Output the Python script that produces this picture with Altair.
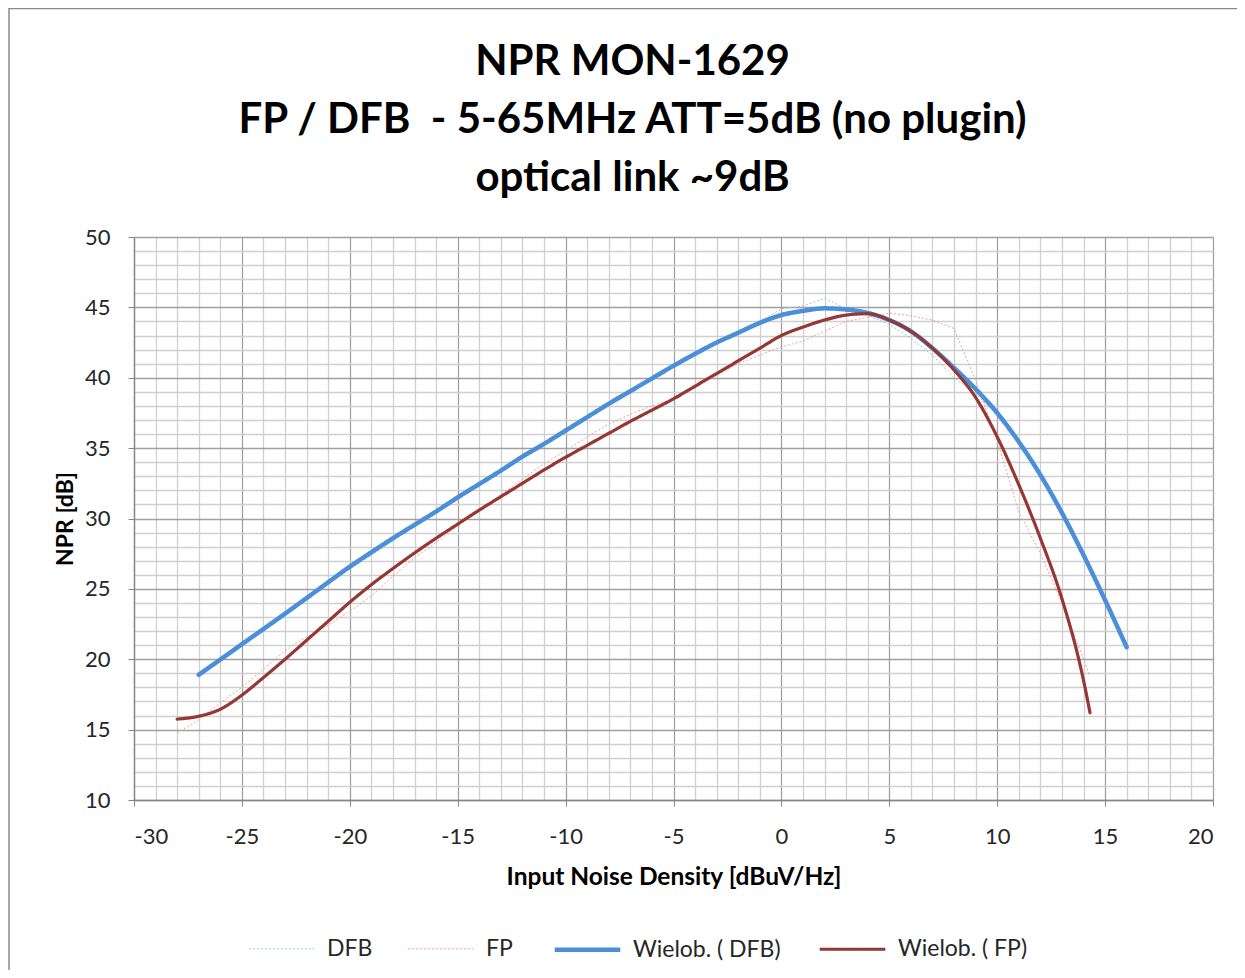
import altair as alt
import pandas as pd

# ---- data ----
x_dfb = [-27, -26, -25, -24, -23, -22, -21, -20, -19, -18, -17, -16, -15, -14, -13, -12,
         -11, -10, -9, -8, -7, -6, -5, -4, -3, -2, -1, 0, 1, 2, 3, 4, 5, 6, 7, 8, 9, 10,
         11, 12, 13, 14, 15, 16]
dfb_raw = [18.7, 19.9, 21.2, 22.1, 23.3, 24.2, 25.5, 26.4, 27.4, 28.4, 29.5, 30.4, 31.4,
           32.4, 33.5, 34.3, 35.3, 36.2, 37.1, 38.2, 39.0, 39.9, 40.8, 41.6, 42.5, 43.3,
           44.0, 44.9, 45.1, 45.65, 44.9, 44.4, 43.8, 42.8, 41.6, 40.0, 38.9, 37.3, 35.3,
           33.0, 30.3, 27.4, 24.2, 20.9]
dfb_fit = [18.9, 19.98, 21.07, 22.15, 23.24, 24.35, 25.47, 26.58, 27.6, 28.6, 29.55, 30.5,
           31.5, 32.45, 33.4, 34.4, 35.3, 36.25, 37.2, 38.15, 39.05, 39.95, 40.85, 41.7,
           42.5, 43.2, 43.9, 44.45, 44.75, 44.93, 44.85, 44.6, 44.1, 43.3, 42.1, 40.7,
           39.2, 37.5, 35.45, 33.1, 30.4, 27.4, 24.2, 20.85]

x_fp = [-28, -27, -26, -25, -24, -23, -22, -21, -20, -19, -18, -17, -16, -15, -14, -13,
        -12, -11, -10, -9, -8, -7, -6, -5, -4, -3, -2, -1, 0, 1, 2, 3, 4, 5, 6, 7, 8, 9,
        10, 11, 12, 13, 14, 14.3]
fp_raw = [14.75, 15.7, 16.9, 18.0, 19.3, 20.6, 21.6, 22.4, 23.4, 24.5, 25.9, 27.2, 28.3,
          29.5, 30.6, 31.7, 32.8, 33.9, 34.8, 35.8, 36.7, 37.4, 38.0, 38.5, 39.3, 40.2,
          41.0, 41.6, 42.2, 42.6, 43.3, 44.0, 44.3, 44.6, 44.4, 44.1, 43.5, 39.8, 35.5,
          30.5, 27.5, 24.0, 20.0, 18.8]
fp_fit = [15.75, 15.95, 16.45, 17.45, 18.7, 20.0, 21.35, 22.7, 24.05, 25.3, 26.45, 27.55,
          28.6, 29.6, 30.6, 31.55, 32.5, 33.45, 34.35, 35.2, 36.05, 36.9, 37.7, 38.5,
          39.4, 40.3, 41.2, 42.1, 43.0, 43.6, 44.1, 44.45, 44.55, 44.1, 43.3, 42.1, 40.55,
          38.6, 35.8, 32.4, 28.6, 24.3, 18.5, 16.2]

series = ["DFB", "FP", "Wielob. ( DFB)", "Wielob. ( FP)"]
colors = ["#9cbfe6", "#e8a3a3", "#4a8fd7", "#953735"]
dashes = [[2, 2], [2, 2], [1, 0], [1, 0]]
widths = [1, 1, 4.5, 3.2]

title_lines = ["NPR MON-1629", "FP / DFB\u00a0\u00a0- 5-65MHz ATT=5dB (no plugin)", "optical link ~9dB"]

raw_df = pd.concat([
    pd.DataFrame({"x": x_dfb, "y": dfb_raw, "series": series[0]}),
    pd.DataFrame({"x": x_fp, "y": fp_raw, "series": series[1]}),
])
fit_df = pd.concat([
    pd.DataFrame({"x": x_dfb, "y": dfb_fit, "series": series[2]}),
    pd.DataFrame({"x": x_fp, "y": fp_fit, "series": series[3]}),
])

FONT = "Lato"
major = "datum.value % 5 === 0"
lab = "datum.value % 5 === 0 ? toString(datum.value) : ''"

x_axis = alt.Axis(
    values=list(range(-30, 21)),
    labelExpr=lab,
    grid=True,
    gridColor=alt.condition(major, alt.value("#a0a0a0"), alt.value("#cfcfcf")),
    gridWidth=1.3,
    tickOpacity=alt.condition(major, alt.value(1), alt.value(0)),
    tickSize=6, tickColor="#868686", domainColor="#868686", domainWidth=1.3,
    labelFontSize=22, labelFont=FONT, labelColor="#262626", labelPadding=20,
    title="Input Noise Density [dBuV/Hz]", titleFont=FONT, titleFontSize=24.5,
    titleFontWeight="bold", titleColor="#000000", titlePadding=18,
)
y_axis = alt.Axis(
    values=list(range(10, 51)),
    labelExpr=lab,
    grid=True,
    gridColor=alt.condition(major, alt.value("#a0a0a0"), alt.value("#cfcfcf")),
    gridWidth=1.3,
    tickOpacity=alt.condition(major, alt.value(1), alt.value(0)),
    tickSize=6, tickColor="#868686", domainColor="#868686", domainWidth=1.3,
    labelFontSize=22, labelFont=FONT, labelColor="#262626", labelPadding=18,
    title="NPR [dB]", titleFont=FONT, titleFontSize=23, titleFontWeight="bold",
    titleColor="#000000", titlePadding=7,
)

xs = alt.Scale(domain=[-30, 20], nice=False, zero=False)
ys = alt.Scale(domain=[10, 50], nice=False, zero=False)

color = alt.Color("series:N", sort=series, scale=alt.Scale(domain=series, range=colors),
                  legend=alt.Legend(title=None))
dash = alt.StrokeDash("series:N", sort=series, scale=alt.Scale(domain=series, range=dashes),
                      legend=alt.Legend(title=None))
width = alt.StrokeWidth("series:N", sort=series,
                        scale=alt.Scale(type="ordinal", domain=series, range=widths),
                        legend=alt.Legend(title=None))

raw = alt.Chart(raw_df).mark_line(interpolate="linear").encode(
    x=alt.X("x:Q", scale=xs, axis=x_axis),
    y=alt.Y("y:Q", scale=ys, axis=y_axis),
    color=color, strokeDash=dash, strokeWidth=width, detail="series:N",
)
fit = alt.Chart(fit_df).mark_line(interpolate="monotone", strokeCap="round").encode(
    x=alt.X("x:Q", scale=xs, axis=x_axis),
    y=alt.Y("y:Q", scale=ys, axis=y_axis),
    color=color, strokeDash=dash, strokeWidth=width, detail="series:N",
)
frame = alt.Chart(pd.DataFrame({"a": [0]})).mark_rect(
    fillOpacity=0, stroke="#8a8a8a", strokeWidth=1.5
).encode(x=alt.value(-125), x2=alt.value(1150), y=alt.value(-228.5), y2=alt.value(760))

chart = alt.layer(frame, raw, fit).properties(
    width=1079, height=563,
    autosize=alt.AutoSizeParams(type="none"),
    padding={"left": 126, "top": 229, "right": 24, "bottom": 170},
    title=alt.TitleParams(
        text=title_lines, font=FONT, fontSize=42, fontWeight="bold", color="#000000",
        lineHeight=58, anchor="middle", dx=-41, offset=0, dy=192, frame="group",
    ),
).configure_view(stroke=None).configure_legend(
    orient="none", legendX=112, legendY=677, direction="horizontal", columns=4,
    symbolType="stroke", symbolSize=4300, labelFont=FONT, labelFontSize=23,
    labelColor="#262626", labelOffset=10, columnPadding=32, padding=0,
)

chart.save("out.html", embed_options={"renderer": "svg", "actions": False})
